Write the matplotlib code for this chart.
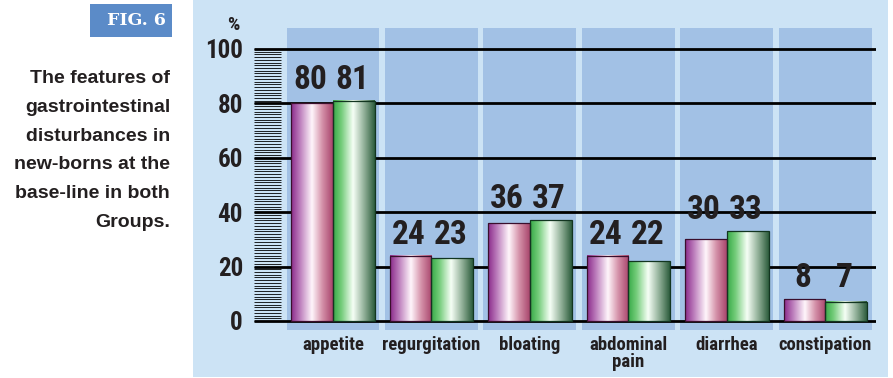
import numpy as np
import matplotlib.pyplot as plt
from matplotlib import font_manager
from matplotlib.patches import Rectangle
from matplotlib.colors import LinearSegmentedColormap

categories = ["appetite", "regurgitation", "bloating", "abdominal\npain", "diarrhea", "constipation"]
group1 = [80, 24, 36, 24, 30, 8]
group2 = [81, 23, 37, 22, 33, 7]
yticks = [0, 20, 40, 60, 80, 100]

caption = "The features of\ngastrointestinal\ndisturbances in\nnew-borns at the\nbase-line in both\nGroups."

# pick a condensed face if one is installed
installed = {f.name for f in font_manager.fontManager.ttflist}
narrow_name = 'Liberation Sans'
for name in ['Liberation Sans Narrow', 'DejaVu Sans Condensed', 'Roboto Condensed',
             'Open Sans Condensed', 'Noto Sans Condensed']:
    if name in installed:
        narrow_name = name
        break
narrow = [narrow_name, 'DejaVu Sans']
dark = '#231F20'

# cylinder-like shading for each group
cmap1 = LinearSegmentedColormap.from_list('g1', [
    (0.0, '#8A2A8A'), (0.2, '#B978B9'), (0.5, '#FFF6FB'),
    (0.75, '#D490A8'), (1.0, '#A8456C')])
cmap2 = LinearSegmentedColormap.from_list('g2', [
    (0.0, '#36AA46'), (0.2, '#74CC7A'), (0.48, '#F6FFF6'),
    (0.75, '#8FAE96'), (1.0, '#2C5C3C')])

W, H = 893, 378
fig = plt.figure(figsize=(W / 100, H / 100), dpi=100)
fig.patch.set_facecolor('white')

# light blue panel behind the chart
fig.patches.append(Rectangle((193 / W, 1 - 377 / H), (888 - 193) / W, 377 / H,
                             transform=fig.transFigure, facecolor='#CCE3F5',
                             edgecolor='none', zorder=-5))

ax = fig.add_axes([254 / W, 1 - 330 / H, (876 - 254) / W, 302 / H])
ax.set_facecolor('none')
for s in ax.spines.values():
    s.set_visible(False)

x = np.arange(len(categories))
bw = 0.426
grad = np.linspace(0, 1, 256).reshape(1, -1)

for i in x:
    # darker column behind each category
    ax.add_patch(Rectangle((i - 0.472, -3.31), 0.944, 111.03, clip_on=False,
                           facecolor='#A2C1E5', edgecolor='none', zorder=1))

# scale ruler on the left
ax.hlines(np.arange(0, 101), -0.802, -0.531, color='black', lw=0.6, zorder=2)
ax.hlines(yticks, -0.802, 5.513, color='black', lw=2.0, zorder=2)

for i in x:
    for j, (vals, cm, ec) in enumerate([(group1, cmap1, '#3A0E2C'),
                                         (group2, cmap2, '#123520')]):
        v = vals[i]
        x0 = i - bw + j * bw
        ax.imshow(grad, cmap=cm, extent=(x0, x0 + bw, 0, v), aspect='auto',
                  zorder=3, interpolation='bilinear')
        ax.add_patch(Rectangle((x0, 0), bw, v, facecolor='none',
                               edgecolor=ec, lw=0.9, zorder=4))
        ax.text(x0 + bw / 2 - 0.02, max(group1[i], group2[i]) + 1.8, str(v),
                ha='center', va='bottom', fontsize=24, fontweight='bold',
                family=narrow, color=dark, zorder=5)

ax.set_xlim(-0.802, 5.513)
ax.set_ylim(-3.31, 107.72)

ax.set_yticks(yticks)
ax.set_yticklabels([str(t) for t in yticks], fontsize=18, fontweight='bold',
                   family=narrow, color=dark)
ax.set_xticks(x)
ax.set_xticklabels(categories, fontsize=13.5, fontweight='bold', family=narrow,
                   color=dark, linespacing=0.95)
ax.tick_params(axis='y', length=0, pad=8)
ax.tick_params(axis='x', length=0, pad=4)

fig.text(233 / W, 1 - 25 / H, "%", ha='center', va='center', fontsize=14,
         fontweight='bold', family=narrow, color=dark)

# figure tag
fig.patches.append(Rectangle((90 / W, 1 - 37 / H), 82 / W, 33 / H,
                             transform=fig.transFigure, facecolor='#5B8BC8',
                             edgecolor='none'))
fig.text(136 / W, 1 - 20.5 / H, "FIG. 6", ha='center', va='center', fontsize=12.5,
         fontweight='bold', family='DejaVu Serif', color='white')

fig.text(170 / W, 1 - 150.5 / H, caption, ha='right', va='center', fontsize=14,
         fontweight='bold', family='Liberation Sans', color=dark,
         linespacing=1.92, multialignment='right')

fig.savefig('out.png', dpi=100)
